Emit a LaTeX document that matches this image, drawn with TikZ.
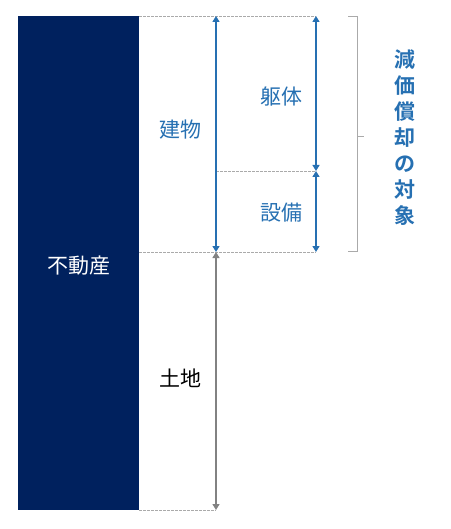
\documentclass[tikz,border=0pt]{standalone}
\usepackage{fontspec}
\setmainfont{Noto Sans CJK JP}
\newfontfamily\jpbold[BoldFont={Noto Sans CJK JP Bold}]{Noto Sans CJK JP}
\usetikzlibrary{arrows.meta}
\definecolor{navy}{RGB}{0,33,94}
\definecolor{mblue}{RGB}{38,112,178}
\definecolor{mgray}{RGB}{130,130,130}
\definecolor{dgray}{RGB}{170,170,170}
\tikzset{
  dim/.style={mblue, line width=1.3pt, {Triangle[width=7pt,length=6pt]}-{Triangle[width=7pt,length=6pt]}},
  gdim/.style={mgray, line width=1.3pt, {Triangle[width=7pt,length=6pt]}-{Triangle[width=7pt,length=6pt]}},
  guide/.style={dgray, dash pattern=on 2.5pt off 1.5pt, line width=0.8pt},
  lbl/.style={font=\fontsize{21}{21}\selectfont, text=mblue, inner sep=0pt},
}
\begin{document}
\begin{tikzpicture}[x=1pt,y=-1pt]
\useasboundingbox (0,0) rectangle (450,529);
\fill[navy] (18,16) rectangle (139,510);
\node[lbl, text=white] (re) at (79,266) {不動産};
% coordinates
\coordinate (t1) at (216,16);
\coordinate (m1) at (216,252);
\coordinate (b1) at (216,510);
\coordinate (t2) at (316,16);
\coordinate (m2) at (316,171);
\coordinate (b2) at (316,252);
\coordinate (mm) at (216,171);
% guides
\draw[guide] (139,16) -- (t2);
\draw[guide] (mm) -- (m2);
\draw[guide] (139,252) -- (b2);
\draw[guide] (139,510) -- (b1);
% dims
\draw[dim] (t1) -- (m1);
\draw[gdim] (m1) -- (b1);
\draw[dim] (t2) -- (m2);
\draw[dim] (m2) -- (b2);
% labels
\node[lbl] (bld) at (180,130) {建物};
\node[lbl] (kut) at (281,97) {躯体};
\node[lbl] (set) at (281,213) {設備};
\node[lbl, text=black] (land) at (180,378) {土地};
% bracket
\draw[dgray, line width=0.9pt] (348,16) -- (357,16) -- (357,136) -- (364,136) (357,136) -- (357,251) -- (348,251);
\node[inner sep=0pt, text=mblue, align=center, font=\jpbold\bfseries\fontsize{21}{26}\selectfont] (dep) at (405,138) {減\\価\\償\\却\\の\\対\\象};
\end{tikzpicture}
\end{document}
